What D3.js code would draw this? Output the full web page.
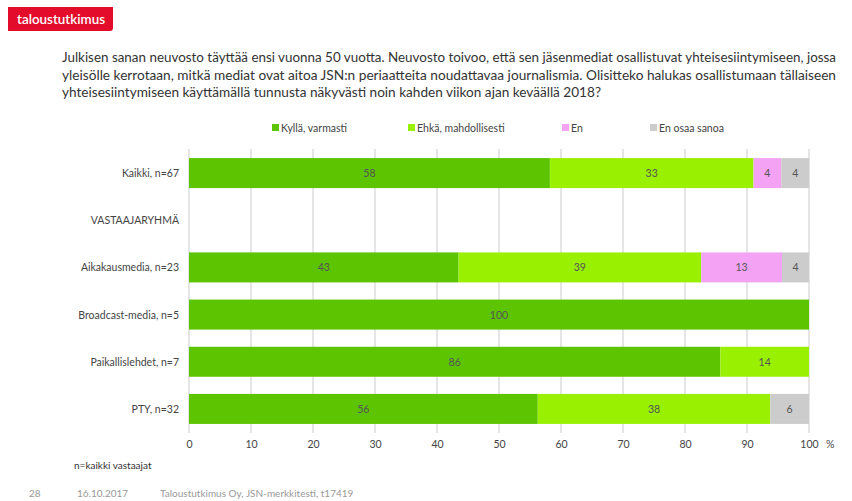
<!DOCTYPE html>
<html>
<head>
<meta charset="utf-8">
<script src="https://cdn.jsdelivr.net/npm/d3@7/dist/d3.min.js"></script>
<style>
  html, body { margin: 0; padding: 0; background: #fff; }
  svg { display: block; font-family: Lato, "Open Sans", sans-serif; }
</style>
</head>
<body>
<svg id="chart" width="852" height="501"></svg>
<script>
// Response groups (rows, top to bottom); the header row carries no bars
const categories = ["Kaikki, n=67", "VASTAAJARYHMÄ", "Aikakausmedia, n=23", "Broadcast-media, n=5", "Paikallislehdet, n=7", "PTY, n=32"];
const seriesNames = ["Kyllä, varmasti", "Ehkä, mahdollisesti", "En", "En osaa sanoa"];
const seriesColors = ["#5cc400", "#99f000", "#f4a3f4", "#cccccc"];

// Shares in percent per series, one entry per row (null = no bar)
const kyllaVarmasti      = [58.21, null, 43.48, 100, 85.71, 56.25];
const ehkaMahdollisesti  = [32.84, null, 39.13, 0, 14.29, 37.5];
const en                 = [4.48, null, 13.04, 0, 0, 0];
const enOsaaSanoa        = [4.48, null, 4.35, 0, 0, 6.25];

const xTicks = [0, 10, 20, 30, 40, 50, 60, 70, 80, 90, 100];

const titleLines = [
  "Julkisen sanan neuvosto täyttää ensi vuonna 50 vuotta. Neuvosto toivoo, että sen jäsenmediat osallistuvat yhteisesiintymiseen, jossa",
  "yleisölle kerrotaan, mitkä mediat ovat aitoa JSN:n periaatteita noudattavaa journalismia. Olisitteko halukas osallistumaan tällaiseen",
  "yhteisesiintymiseen käyttämällä tunnusta näkyvästi noin kahden viikon ajan keväällä 2018?"
];
const titleWidths = [774, 774, 539];

const svg = d3.select("#chart");

// Brand badge
svg.append("path")
  .attr("d", "M8,7 H113 V28 Q113,31 110,31 H8 Z")
  .attr("fill", "#e30d2b");
svg.append("text")
  .attr("x", 17).attr("y", 24)
  .attr("fill", "#fff")
  .attr("font-size", 13).attr("font-weight", 600)
  .attr("textLength", 88).attr("lengthAdjust", "spacingAndGlyphs")
  .text("taloustutkimus");

// Question text
svg.append("g").selectAll("text")
  .data(titleLines)
  .join("text")
  .attr("x", 62)
  .attr("y", (d, i) => 62 + i * 17.5)
  .attr("font-size", 13.5)
  .attr("fill", "#333")
  .attr("textLength", (d, i) => titleWidths[i])
  .attr("lengthAdjust", "spacingAndGlyphs")
  .text(d => d);

// Scales
const x = d3.scaleLinear().domain([0, 100]).range([189, 809]);
const y = d3.scaleBand().domain(categories).range([149.5, 432.5]).paddingInner(0.36).paddingOuter(0.18);

// Gridlines (run slightly past the plot bottom to form tick marks)
svg.append("g").selectAll("line")
  .data(xTicks)
  .join("line")
  .attr("x1", d => x(d)).attr("x2", d => x(d))
  .attr("y1", 149).attr("y2", 433)
  .attr("stroke", "#d4d4d4").attr("stroke-width", 1.2);

// Stack the series
const seriesArrays = [kyllaVarmasti, ehkaMahdollisesti, en, enOsaaSanoa];
const rows = categories.map((c, i) => {
  const r = { cat: c };
  seriesNames.forEach((s, k) => r[s] = seriesArrays[k][i] || 0);
  return r;
});
const stack = d3.stack().keys(seriesNames)(rows);

const barH = 30;
const layers = svg.append("g").selectAll("g")
  .data(stack)
  .join("g")
  .attr("fill", (d, k) => seriesColors[k]);

layers.selectAll("rect")
  .data(d => d.filter(p => p[1] - p[0] > 0))
  .join("rect")
  .attr("x", p => x(p[0]))
  .attr("width", p => x(p[1]) - x(p[0]))
  .attr("y", p => y(p.data.cat) + y.bandwidth() / 2 - barH / 2)
  .attr("height", barH);

// Value labels (rounded shares)
layers.selectAll("text")
  .data(d => d.filter(p => p[1] - p[0] > 0))
  .join("text")
  .attr("x", p => (x(p[0]) + x(p[1])) / 2)
  .attr("y", p => y(p.data.cat) + y.bandwidth() / 2 + 4)
  .attr("text-anchor", "middle")
  .attr("font-size", 10.5)
  .attr("fill", "#555")
  .text(p => Math.round(p[1] - p[0]));

// Row labels
svg.append("g").selectAll("text")
  .data(categories)
  .join("text")
  .attr("x", 179)
  .attr("y", d => y(d) + y.bandwidth() / 2 + 4)
  .attr("text-anchor", "end")
  .attr("font-size", 10.5)
  .attr("fill", "#444")
  .text(d => d);

// Bottom axis labels
const axis = d3.axisBottom(x).tickValues(xTicks).tickSize(0).tickPadding(0);
const axisG = svg.append("g").attr("transform", "translate(0,441)").call(axis);
axisG.select(".domain").remove();
axisG.selectAll("text")
  .attr("font-family", "Lato, 'Open Sans', sans-serif")
  .attr("font-size", 10.5)
  .attr("fill", "#444");
svg.append("text")
  .attr("x", 826).attr("y", 448)
  .attr("font-size", 10.5).attr("fill", "#444")
  .text("%");

// Legend
const legendX = [272, 408, 562, 650];
const legend = svg.append("g").selectAll("g")
  .data(seriesNames)
  .join("g")
  .attr("transform", (d, i) => `translate(${legendX[i]},124)`);
legend.append("rect")
  .attr("width", 7).attr("height", 7)
  .attr("fill", (d, i) => seriesColors[i]);
legend.append("text")
  .attr("x", 9).attr("y", 7.5)
  .attr("font-size", 10.5).attr("fill", "#444")
  .text(d => d);

// Footnotes
svg.append("text")
  .attr("x", 74).attr("y", 469)
  .attr("font-size", 10).attr("fill", "#333")
  .text("n=kaikki vastaajat");
const foot = svg.append("g").attr("font-size", 10).attr("fill", "#999");
foot.append("text").attr("x", 29).attr("y", 497).text("28");
foot.append("text").attr("x", 77).attr("y", 497).text("16.10.2017");
foot.append("text").attr("x", 160).attr("y", 497).text("Taloustutkimus Oy, JSN-merkkitesti, t17419");
</script>
</body>
</html>
